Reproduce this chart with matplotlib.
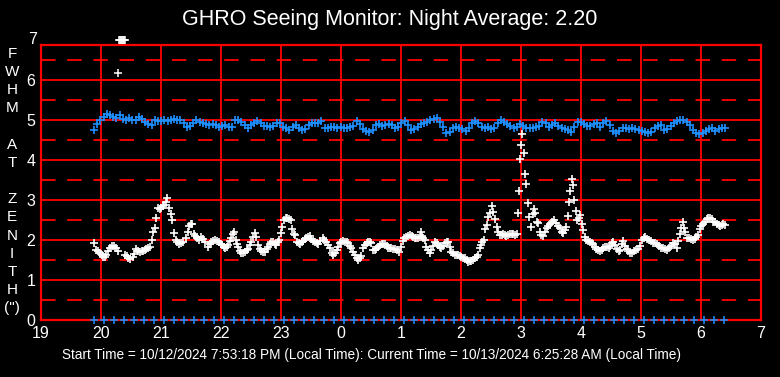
import numpy as np
import matplotlib.pyplot as plt

plt.rcParams['font.family'] = ['Liberation Sans', 'DejaVu Sans']

# seeing (FWHM at zenith, arcsec) -- minutes after 19:00 local
seeing_min = [53, 55, 57, 59, 61, 62, 64, 65, 67, 69,
              71, 73, 75, 77, 84, 86, 87, 89, 92, 93,
              95, 97, 99, 101, 102, 104, 105, 107, 109, 111,
              112, 114, 115, 117, 119, 120, 122, 123, 125, 126,
              128, 130, 131, 133, 135, 136, 138, 140, 142, 145,
              147, 148, 150, 151, 153, 154, 156, 158, 160, 162,
              164, 167, 169, 170, 172, 174, 176, 178, 180, 181,
              183, 184, 186, 187, 189, 190, 192, 193, 195, 196,
              197, 199, 200, 202, 204, 206, 207, 209, 210, 212,
              214, 215, 217, 219, 220, 222, 224, 226, 227, 229,
              230, 232, 234, 235, 237, 238, 240, 241, 243, 245,
              246, 248, 250, 251, 253, 254, 256, 258, 259, 261,
              262, 264, 265, 267, 269, 270, 272, 274, 276, 277,
              279, 282, 283, 285, 287, 289, 291, 292, 294, 296,
              297, 299, 300, 302, 304, 306, 307, 309, 310, 312,
              314, 316, 317, 319, 320, 322, 324, 326, 327, 329,
              330, 332, 334, 335, 337, 339, 341, 342, 344, 346,
              347, 349, 350, 352, 354, 356, 358, 360, 362, 363,
              365, 367, 369, 371, 372, 374, 375, 377, 379, 380,
              381, 382, 384, 385, 387, 389, 390, 392, 394, 396,
              397, 399, 400, 402, 404, 406, 407, 409, 410, 412,
              414, 416, 417, 419, 420, 422, 424, 426, 427, 429,
              430, 432, 434, 436, 437, 439, 440, 441, 443, 444,
              446, 447, 449, 451, 452, 454, 456, 457, 459, 461,
              462, 464, 465, 467, 469, 471, 472, 474, 476, 477,
              478, 479, 480, 481, 483, 484, 485, 487, 488, 490,
              492, 493, 494, 496, 497, 499, 500, 502, 504, 506,
              507, 509, 511, 513, 515, 517, 519, 521, 522, 524,
              525, 527, 528, 529, 531, 532, 533, 535, 536, 538,
              539, 541, 542, 544, 545, 547, 549, 551, 552, 554,
              555, 557, 559, 561, 562, 564, 566, 568, 569, 571,
              572, 574, 576, 578, 579, 581, 582, 584, 586, 587,
              589, 591, 593, 595, 597, 599, 601, 603, 604, 606,
              608, 610, 612, 614, 616, 618, 620, 622, 624, 626,
              628, 630, 632, 634, 636, 637, 639, 640, 642, 643,
              644, 646, 648, 650, 652, 654, 655, 657, 659, 660,
              662, 664, 666, 667, 669, 671, 672, 674, 676, 678,
              679, 681, 682, 684]
seeing_val = [1.92, 1.75, 1.72, 1.68, 1.62, 1.58, 1.57, 1.62, 1.72, 1.80,
              1.85, 1.84, 1.80, 1.72, 1.63, 1.60, 1.55, 1.53, 1.58, 1.66,
              1.78, 1.72, 1.70, 1.72, 1.72, 1.76, 1.78, 1.80, 1.83, 2.00,
              2.20, 2.30, 2.55, 2.80, 2.78, 2.80, 2.85, 2.88, 2.95, 3.05,
              2.80, 2.65, 2.50, 2.17, 2.00, 1.95, 1.90, 1.93, 1.96, 2.05,
              2.20, 2.35, 2.40, 2.40, 2.15, 2.10, 2.05, 2.00, 2.08, 2.02,
              1.96, 1.83, 1.90, 1.95, 1.98, 2.00, 1.98, 1.95, 1.90, 1.87,
              1.82, 1.79, 1.83, 1.87, 1.98, 2.04, 2.15, 2.20, 2.00, 1.90,
              1.83, 1.72, 1.67, 1.68, 1.70, 1.75, 1.78, 1.88, 1.95, 2.08,
              2.18, 2.08, 1.87, 1.78, 1.72, 1.70, 1.71, 1.78, 1.83, 1.90,
              1.94, 1.95, 1.90, 1.87, 1.95, 2.00, 2.17, 2.33, 2.50, 2.55,
              2.54, 2.52, 2.50, 2.27, 2.15, 2.12, 1.96, 1.92, 1.90, 1.95,
              1.98, 2.03, 2.06, 2.08, 2.10, 2.02, 1.98, 1.96, 1.92, 1.90,
              1.97, 2.04, 2.00, 1.96, 1.88, 1.79, 1.68, 1.63, 1.67, 1.76,
              1.83, 1.92, 1.96, 1.97, 1.96, 1.94, 1.92, 1.84, 1.79, 1.70,
              1.63, 1.55, 1.50, 1.55, 1.60, 1.79, 1.88, 1.93, 1.96, 1.94,
              1.92, 1.75, 1.76, 1.78, 1.83, 1.87, 1.90, 1.90, 1.90, 1.84,
              1.79, 1.79, 1.79, 1.78, 1.78, 1.74, 1.71, 1.83, 1.98, 2.04,
              2.08, 2.10, 2.13, 2.10, 2.08, 2.05, 2.04, 2.06, 2.08, 2.20,
              2.10, 2.05, 2.00, 1.83, 1.75, 1.67, 1.75, 1.85, 1.96, 1.92,
              1.88, 1.82, 1.79, 1.85, 1.92, 1.96, 1.96, 1.83, 1.71, 1.67,
              1.63, 1.63, 1.63, 1.60, 1.58, 1.56, 1.54, 1.50, 1.46, 1.47,
              1.48, 1.50, 1.54, 1.58, 1.63, 1.79, 1.88, 1.96, 2.00, 2.27,
              2.38, 2.57, 2.68, 2.85, 2.70, 2.52, 2.33, 2.20, 2.13, 2.12,
              2.15, 2.12, 2.10, 2.13, 2.15, 2.14, 2.15, 2.12, 2.15, 2.67,
              3.23, 4.02, 4.38, 4.64, 4.17, 3.65, 3.40, 2.92, 2.57, 2.33,
              2.64, 2.77, 2.67, 2.45, 2.42, 2.20, 2.13, 2.10, 2.20, 2.30,
              2.35, 2.40, 2.45, 2.50, 2.42, 2.35, 2.29, 2.20, 2.17, 2.25,
              2.33, 2.60, 2.94, 3.23, 3.52, 3.38, 3.00, 2.73, 2.50, 2.55,
              2.63, 2.40, 2.25, 2.08, 2.00, 1.98, 1.96, 1.92, 1.90, 1.83,
              1.77, 1.75, 1.72, 1.75, 1.79, 1.82, 1.83, 1.80, 1.85, 1.92,
              1.96, 1.88, 1.77, 1.72, 1.75, 1.90, 1.97, 1.85, 1.78, 1.72,
              1.68, 1.67, 1.72, 1.74, 1.78, 1.85, 2.00, 2.06, 2.08, 2.02,
              2.00, 1.97, 1.92, 1.92, 1.90, 1.84, 1.80, 1.79, 1.77, 1.76,
              1.80, 1.86, 1.92, 1.90, 1.80, 1.98, 2.15, 2.30, 2.45, 2.30,
              2.20, 2.05, 2.04, 2.02, 2.00, 2.02, 2.08, 2.12, 2.28, 2.35,
              2.40, 2.45, 2.52, 2.54, 2.55, 2.52, 2.46, 2.45, 2.40, 2.38,
              2.36, 2.38, 2.40, 2.38]

# off-scale readings (values >= 7 sit on the top line)
high_min = [77, 78, 79, 80, 81, 82, 83, 84]
high_val = [6.17, 7.0, 7.0, 7.0, 7.0, 7.0, 7.0, 7.0]

# blue reference series near 5", evenly sampled 19:53 -> 06:24
ref_val = [4.75, 4.89, 5.00, 5.08, 5.14, 5.13, 5.08, 5.04, 5.13, 5.03,
           5.00, 5.04, 5.00, 5.00, 5.08, 5.03, 4.96, 4.89, 4.88, 5.00,
           4.98, 4.98, 5.00, 4.98, 5.00, 5.03, 5.00, 5.00, 4.92, 4.83,
           4.86, 4.92, 5.00, 4.96,
           4.92, 4.89, 4.88, 4.89, 4.88, 4.83, 4.86, 4.88, 4.83, 4.83,
           5.00, 5.00, 4.96, 4.88, 4.81, 4.88, 4.92, 4.98, 4.92, 4.86,
           4.86, 4.83, 4.86, 4.92, 4.92, 4.83, 4.79, 4.75, 4.83, 4.88,
           4.81, 4.75, 4.77, 4.88, 4.92,
           4.92, 4.92, 4.98, 4.79, 4.79, 4.83, 4.83, 4.81, 4.83, 4.81,
           4.81, 4.83, 4.86, 4.98, 4.89, 4.77, 4.73, 4.71, 4.75, 4.88,
           4.89, 4.86, 4.88, 4.89, 4.88, 4.81, 4.83, 4.92, 4.98, 4.88,
           4.75, 4.77, 4.83, 4.89,
           4.92, 4.94, 5.00, 5.03, 5.04, 4.96, 4.83, 4.67, 4.71, 4.79,
           4.83, 4.79, 4.77, 4.73, 4.79, 4.92, 4.98, 4.92, 4.83, 4.81,
           4.83, 4.77, 4.81, 4.92, 5.00, 4.96, 4.89, 4.86, 4.81, 4.83,
           4.89, 4.86, 4.79, 4.81,
           4.79, 4.83, 4.86, 4.94, 4.92, 4.83, 4.88, 4.92, 4.86, 4.79,
           4.77, 4.75, 4.71, 4.83, 4.94, 4.96, 4.89, 4.86, 4.86, 4.89,
           4.92, 4.83, 4.92, 4.98, 4.88, 4.73, 4.67, 4.73, 4.79, 4.79,
           4.77, 4.79, 4.77, 4.75,
           4.73, 4.69, 4.67, 4.71, 4.81, 4.86, 4.88, 4.75, 4.77, 4.86,
           4.92, 4.98, 5.00, 5.00, 4.96, 4.88, 4.75, 4.67, 4.64, 4.67,
           4.73, 4.77, 4.79, 4.73, 4.77, 4.81, 4.81]
ref_min = np.linspace(53, 684, len(ref_val))

# blue zero-level markers every 10 minutes
zero_min = list(range(53, 685, 10))
zero_val = [0.0] * len(zero_min)

x_labels = ['19', '20', '21', '22', '23', '0', '1', '2', '3', '4', '5', '6', '7']

title = 'GHRO Seeing Monitor: Night Average: 2.20'
footer = ('Start Time = 10/12/2024 7:53:18 PM (Local Time): '
          'Current Time = 10/13/2024 6:25:28 AM (Local Time)')


def hours(m):
    return 19 + np.asarray(m, dtype=float) / 60.0


fig = plt.figure(figsize=(7.8, 3.77), dpi=100, facecolor='black')
ax = fig.add_axes([41 / 780, 57 / 377, 720 / 780, 275 / 377])
ax.set_facecolor('black')

ymax = 6.875
ax.set_xlim(19, 31)
ax.set_ylim(0, ymax)

# grid: solid at whole values, dashed at halves
for xv in range(20, 31):
    ax.axvline(xv, color='red', lw=1.3, zorder=1)
for yv in range(1, 7):
    ax.axhline(yv, color='red', lw=1.3, zorder=1)
for yv in np.arange(0.5, 7, 1.0):
    ax.axhline(yv, color='red', lw=1.3, dashes=(8, 6.5), zorder=1)

for s in ax.spines.values():
    s.set_color('red')
    s.set_linewidth(1.6)

ax.plot(hours(ref_min), ref_val, '+', color='#1E90FF', ms=5.5, mew=1.2, zorder=3)
ax.plot(hours(zero_min), zero_val, '+', color='#1E90FF', ms=5.5, mew=1.1,
        zorder=3, clip_on=False)
ax.plot(hours(seeing_min), seeing_val, '+', color='white', ms=5.5, mew=1.2, zorder=4)
ax.plot(hours(high_min), high_val, '+', color='white', ms=5.5, mew=1.1,
        zorder=4, clip_on=False)

ax.set_xticks(range(19, 32))
ax.set_xticklabels(x_labels)
ax.set_yticks(range(0, 7))
ax.tick_params(length=0, colors='white', labelsize=11.5, pad=4)
# the "7" label sits just above the frame
ax.text(-0.006, 7, '7', transform=ax.get_yaxis_transform(), color='white',
        fontsize=11.5, ha='right', va='center', clip_on=False)

fig.text(390 / 780, 1 - 20 / 377, title, color='white', fontsize=15.5,
         ha='center', va='center')
fig.text(12 / 780, 1 - 181 / 377, 'F\nW\nH\nM\n\nA\nT\n\nZ\nE\nN\nI\nT\nH\n(")',
         color='white', fontsize=11, ha='center', va='center', linespacing=1.38)
fig.text(371 / 780, 1 - 355 / 377, footer, color='white', fontsize=9.8,
         ha='center', va='center')

fig.savefig('out.png', dpi=100, facecolor='black')
